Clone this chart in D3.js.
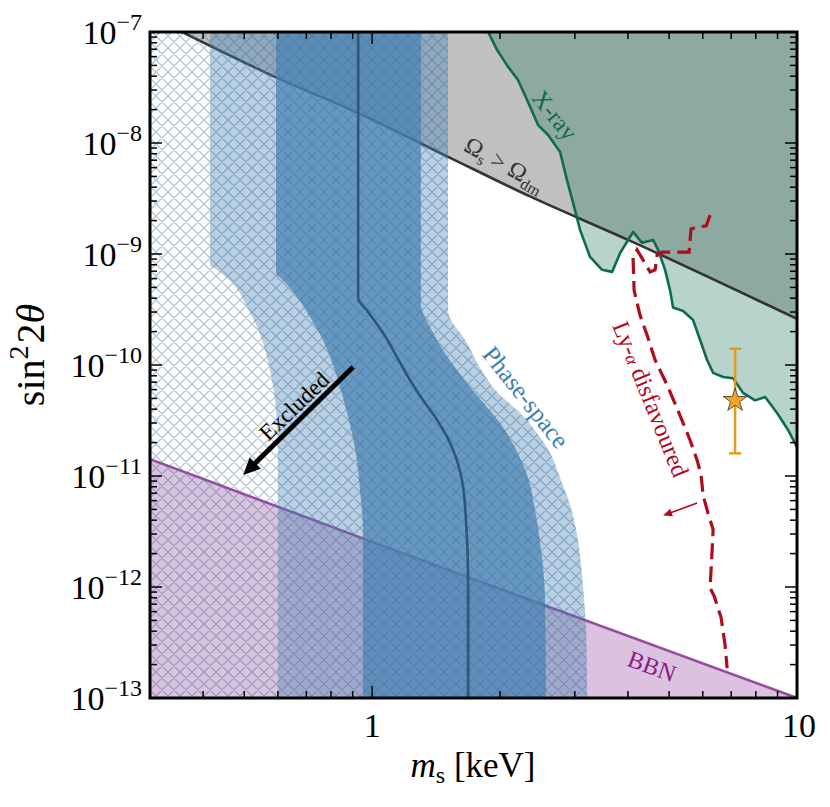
<!DOCTYPE html>
<html><head><meta charset="utf-8">
<script src="https://cdn.jsdelivr.net/npm/d3@7"></script>
<style>body{margin:0;background:#fff}svg{display:block}</style>
</head><body>
<svg id="c" width="830" height="807"></svg>
<script>
// ---------- data ----------
const massRange = [0.3, 10];
const mixRange = [1e-13, 1e-7];
const xMajorTicks = [1, 10];
const xTickLabels = ["1", "10"];
const yTickExponents = [-13, -12, -11, -10, -9, -8, -7];

const omegaLine = [[0.357,1e-7],[0.594,3.9e-8],[0.927,1.86e-8],[1.509,7.5e-9],[2.353,3.3e-9],[4.004,1.34e-9],[10,2.6e-10]];
const bbnLine = [[0.3,1.42e-11],[1,2.55e-12],[10,1e-13]];
const xrayLine = [[1.875,1e-7],[1.968,6.9e-8],[2.078,5.0e-8],[2.205,3.7e-8],[2.316,2.44e-8],[2.458,1.45e-8],[2.595,1.18e-8],[2.770,8.3e-9],[2.876,4.6e-9],[2.971,2.9e-9],[3.087,1.64e-9],[3.258,9.4e-10],[3.477,7.2e-10],[3.671,6.9e-10],[3.834,1.02e-9],[4.113,1.58e-9],[4.319,1.26e-9],[4.584,1.34e-9],[4.710,1.09e-9],[4.892,7.2e-10],[5.026,4.7e-10],[5.108,3.3e-10],[5.395,3.06e-10],[5.694,2.54e-10],[5.915,1.68e-10],[6.143,1.11e-10],[6.347,8.5e-11],[6.699,7.8e-11],[7.072,7.6e-11],[7.466,5.6e-11],[7.968,4.8e-11],[8.414,5.15e-11],[8.977,3.7e-11],[9.527,2.6e-11],[10,1.82e-11]];
const lyaLine = [[6.243,2.24e-9],[6.110,1.79e-9],[5.819,1.75e-9],[5.631,1.68e-9],[5.572,1.04e-9],[4.814,1.04e-9],[4.686,9.8e-10],[4.634,7.2e-10],[4.510,6.9e-10],[4.203,1.09e-9],[4.113,9.2e-10],[4.136,4.7e-10],[4.272,2.8e-10],[4.437,1.86e-10],[4.634,1.11e-10],[4.946,6.6e-11],[5.306,3.5e-11],[5.602,2.1e-11],[5.819,1.39e-11],[5.946,1.02e-11],[6.012,6.7e-12],[6.176,4.6e-12],[6.347,3.3e-12],[6.313,2.15e-12],[6.243,9.8e-13],[6.381,8.3e-13],[6.627,5.3e-13],[6.772,3.0e-13],[6.847,1.86e-13]];
const bandOuterLeft = [[0.415,1e-7],[0.415,8.0e-10],[0.431,7.2e-10],[0.468,5.5e-10],[0.508,3.3e-10],[0.536,2.2e-10],[0.560,1.36e-10],[0.578,8.1e-11],[0.591,4.8e-11],[0.597,2.9e-11],[0.600,1.8e-11],[0.600,1e-13]];
const bandInnerLeft = [[0.594,1e-7],[0.594,6.7e-10],[0.617,5.8e-10],[0.666,4.1e-10],[0.714,2.7e-10],[0.766,1.68e-10],[0.809,1.0e-10],[0.850,5.4e-11],[0.887,2.9e-11],[0.917,1.55e-11],[0.936,7.5e-12],[0.952,3.3e-12],[0.952,1e-13]];
const centralLine = [[0.927,1e-7],[0.927,4.0e-10],[0.973,3.1e-10],[1.061,1.94e-10],[1.144,1.18e-10],[1.228,7.3e-11],[1.318,4.8e-11],[1.422,3.2e-11],[1.501,2.25e-11],[1.567,1.55e-11],[1.627,9.2e-12],[1.663,4.0e-12],[1.682,1.16e-12],[1.682,1e-13]];
const bandInnerRight = [[1.303,1e-7],[1.303,3.5e-10],[1.369,2.2e-10],[1.469,1.36e-10],[1.585,9.0e-11],[1.700,6.3e-11],[1.824,4.6e-11],[2.000,3.0e-11],[2.170,1.79e-11],[2.316,1.02e-11],[2.418,4.9e-12],[2.498,2.15e-12],[2.553,7.6e-13],[2.567,1e-13]];
const bandOuterRight = [[1.509,1e-7],[1.509,3.1e-10],[1.673,1.58e-10],[1.795,9.4e-11],[1.968,5.7e-11],[2.229,3.7e-11],[2.444,2.44e-11],[2.624,1.61e-11],[2.770,9.6e-12],[2.923,5.5e-12],[3.036,2.94e-12],[3.103,1.58e-12],[3.154,7.6e-13],[3.188,4.1e-13],[3.206,1e-13]];
const starPoint = [7.15, 4.8e-11];
const starErr = [1.6e-11, 1.4e-10];
const excludedArrow = [[0.902,9.6e-11],[0.497,1.02e-11]];
const lyaArrow = [[5.82,5.7e-12],[4.84,4.4e-12]];

// ---------- setup ----------
const L = 150, R = 797, T = 32, B = 698;
const svg = d3.select("#c");
const x = d3.scaleLog().domain(massRange).range([L, R]);
const y = d3.scaleLog().domain(mixRange).range([B, T]);
const serif = "'Liberation Serif', 'Times New Roman', serif";

const defs = svg.append("defs");
defs.append("clipPath").attr("id","clip").append("rect").attr("x",L).attr("y",T).attr("width",R-L).attr("height",B-T);
const hs = 12;
const pat = defs.append("pattern").attr("id","hatch").attr("patternUnits","userSpaceOnUse").attr("width",hs).attr("height",hs);
pat.append("path").attr("d",`M0,0L${hs},${hs}M${hs},0L0,${hs}M-2,${hs-2}L2,${hs+2}M${hs-2},-2L${hs+2},2M-2,2L2,-2M${hs-2},${hs+2}L${hs+2},${hs-2}`)
  .attr("stroke","rgba(60,110,150,0.38)").attr("stroke-width",1.4).attr("fill","none");

const lineY = d3.line().x(d=>x(d[0])).y(d=>y(d[1])).curve(d3.curveMonotoneY);
const lineM = d3.line().x(d=>x(d[0])).y(d=>y(d[1])).curve(d3.curveMonotoneX);
const lineL = d3.line().x(d=>x(d[0])).y(d=>y(d[1]));
const cont = s => "L" + s.slice(1);

const g = svg.append("g").attr("clip-path","url(#clip)");

// Omega region
g.append("path").attr("d", lineM(omegaLine) + `L${x(10)},${y(1e-7)}Z`).attr("fill","#c0c0c0");
// BBN region
g.append("path").attr("d", lineL(bbnLine) + `L${x(10)},${y(1e-13)}L${x(0.3)},${y(1e-13)}Z`).attr("fill","rgba(139,58,150,0.31)");
// X-ray region
g.append("path").attr("d", lineL(xrayLine) + `L${x(10)},${y(1e-7)}Z`).attr("fill","rgba(35,122,94,0.33)");
// lines beneath bands
g.append("path").attr("d", lineL(bbnLine)).attr("fill","none").attr("stroke","#9a4aa2").attr("stroke-width",2.6);
g.append("path").attr("d", lineM(omegaLine)).attr("fill","none").attr("stroke","#333").attr("stroke-width",2.6);

// bands
g.append("path").attr("d", lineY(bandOuterLeft) + cont(lineY(bandOuterRight.slice().reverse())) + "Z")
  .attr("fill","rgba(70,130,180,0.38)");
g.append("path").attr("d", lineY(bandInnerLeft) + cont(lineY(bandInnerRight.slice().reverse())) + "Z")
  .attr("fill","rgba(70,130,180,0.72)");
// hatch
g.append("path").attr("d", `M${x(0.3)},${y(1e-7)}` + cont(lineY(bandOuterRight)) + `L${x(0.3)},${y(1e-13)}Z`)
  .attr("fill","url(#hatch)");
// central line
g.append("path").attr("d", lineY(centralLine)).attr("fill","none").attr("stroke","#2b5876").attr("stroke-width",2.6);

// X-ray line
g.append("path").attr("d", lineL(xrayLine)).attr("fill","none").attr("stroke","#0e6b50").attr("stroke-width",2.6).attr("stroke-linejoin","round");
// Ly-alpha
g.append("path").attr("d", lineL(lyaLine)).attr("fill","none").attr("stroke","#b00c1e").attr("stroke-width",3.2)
  .attr("stroke-dasharray","16,7");

// error bar + star
const sx = x(starPoint[0]);
g.append("line").attr("x1",sx).attr("x2",sx).attr("y1",y(starErr[0])).attr("y2",y(starErr[1])).attr("stroke","#e49a22").attr("stroke-width",2.5);
[starErr[0], starErr[1]].forEach(v=>{
  g.append("line").attr("x1",sx-6).attr("x2",sx+6).attr("y1",y(v)).attr("y2",y(v)).attr("stroke","#e49a22").attr("stroke-width",2.5);
});
g.append("path").attr("d", d3.symbol(d3.symbolStar, 175)()).attr("transform",`translate(${sx},${y(starPoint[1])})`)
  .attr("fill","#f0a424").attr("stroke","#333").attr("stroke-width",0.8);

// arrows
function arrow(p0, p1, w, hl, hw, color){
  const a=[x(p0[0]),y(p0[1])], b=[x(p1[0]),y(p1[1])];
  const dx=b[0]-a[0], dy=b[1]-a[1], len=Math.hypot(dx,dy), ux=dx/len, uy=dy/len;
  const bx=b[0]-ux*hl, by=b[1]-uy*hl;
  g.append("line").attr("x1",a[0]).attr("y1",a[1]).attr("x2",bx+ux*1).attr("y2",by+uy*1).attr("stroke",color).attr("stroke-width",w);
  g.append("path").attr("d",`M${b[0]},${b[1]}L${bx-uy*hw/2},${by+ux*hw/2}L${bx+uy*hw/2},${by-ux*hw/2}Z`).attr("fill",color);
}
arrow(excludedArrow[0], excludedArrow[1], 5, 17, 16, "#000");
arrow(lyaArrow[0], lyaArrow[1], 1.6, 9, 8, "#b00c1e");

// labels
function label(cx, cy, ang, color, size){
  return g.append("text").attr("transform",`translate(${cx},${cy}) rotate(${ang})`).attr("text-anchor","middle")
    .attr("dy","0.35em").attr("font-family",serif).attr("font-size",size).attr("fill",color);
}
label(294,406,-44,"#000",23).text("Excluded");
label(526,397,51.5,"#3b7fb0",25).text("Phase-space");
label(555,115,51,"#0e6b50",24).text("X-ray");
label(652,666,20,"#8b1a8b",24).text("BBN");
const ly = label(651,399,68,"#b00c1e",24.5);
ly.append("tspan").text("Ly-");
ly.append("tspan").attr("font-style","italic").attr("font-size",18).text("α");
ly.append("tspan").text(" disfavoured");
const om = label(505,164,29,"#333",24);
om.append("tspan").text("Ω");
om.append("tspan").attr("font-size",16).attr("dy",5).text("s");
om.append("tspan").attr("dy",-5).text(" > Ω");
om.append("tspan").attr("font-size",16).attr("dy",5).text("dm");

// ---------- axes ----------
const ax = svg.append("g");
const xt = x.ticks().filter(v => v > massRange[0] * 1.01 && v < massRange[1] * 0.99);
const yt = y.ticks();
const isMajorY = v => Math.abs(Math.log10(v) - Math.round(Math.log10(v))) < 1e-6;
xt.forEach(v=>{
  const px = x(v), maj = xMajorTicks.includes(v), len = maj ? 12 : 7;
  ax.append("line").attr("x1",px).attr("x2",px).attr("y1",B).attr("y2",B-len).attr("stroke","#000").attr("stroke-width",1.5);
  ax.append("line").attr("x1",px).attr("x2",px).attr("y1",T).attr("y2",T+len).attr("stroke","#000").attr("stroke-width",1.5);
});
yt.forEach(v=>{
  const py = y(v), len = isMajorY(v) ? 12 : 7;
  ax.append("line").attr("x1",L).attr("x2",L+len).attr("y1",py).attr("y2",py).attr("stroke","#000").attr("stroke-width",1.5);
  ax.append("line").attr("x1",R).attr("x2",R-len).attr("y1",py).attr("y2",py).attr("stroke","#000").attr("stroke-width",1.5);
});
ax.append("rect").attr("x",L).attr("y",T).attr("width",R-L).attr("height",B-T).attr("fill","none").attr("stroke","#000").attr("stroke-width",3);

xMajorTicks.forEach((v,i)=>{
  ax.append("text").attr("x",x(v)+(i?2:0)).attr("y",737).attr("text-anchor","middle").attr("font-family",serif).attr("font-size",34).text(xTickLabels[i]);
});
yTickExponents.forEach(e=>{
  const t = ax.append("text").attr("x",142).attr("y",y(Math.pow(10,e))+12).attr("text-anchor","end").attr("font-family",serif).attr("font-size",34);
  t.append("tspan").text("10");
  t.append("tspan").attr("font-size",24).attr("dy",-14).text("−" + Math.abs(e));
});

// axis titles
const xl = ax.append("text").attr("x",473).attr("y",777).attr("text-anchor","middle").attr("font-family",serif).attr("font-size",35);
xl.append("tspan").attr("font-style","italic").text("m");
xl.append("tspan").attr("font-size",24).attr("dy",6).text("s");
xl.append("tspan").attr("dy",-6).text(" [keV]");
const yl = ax.append("text").attr("transform","translate(44,355) rotate(-90)").attr("text-anchor","middle").attr("font-family",serif).attr("font-size",40);
yl.append("tspan").text("sin");
yl.append("tspan").attr("font-size",28).attr("dy",-16).text("2");
yl.append("tspan").attr("dy",16).attr("dx",2).text("2");
yl.append("tspan").attr("font-style","italic").text("θ");
</script>
</body></html>
